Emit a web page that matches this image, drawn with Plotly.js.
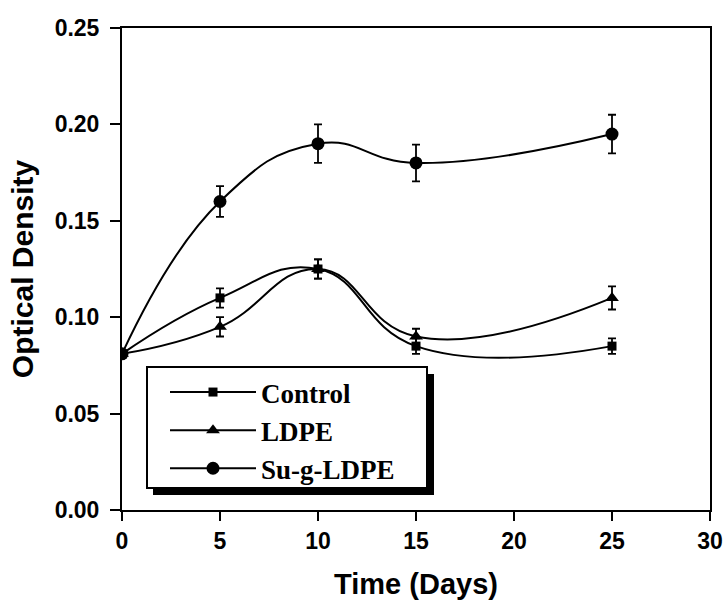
<!DOCTYPE html>
<html>
<head>
<meta charset="utf-8">
<script src="https://cdn.plot.ly/plotly-3.0.1.min.js"></script>
<style>html,body{margin:0;padding:0;background:#fff}#chart{width:727px;height:600px}</style>
</head>
<body>
<div id="chart"></div>
<script>
var days = [0, 5, 10, 15, 25];
var seriesNames = ["Control", "LDPE", "Su-g-LDPE"];
var controlOD = [0.081, 0.110, 0.125, 0.085, 0.085];
var controlErr = [0, 0.005, 0.005, 0.004, 0.004];
var ldpeOD = [0.081, 0.095, 0.125, 0.090, 0.110];
var ldpeErr = [0, 0.005, 0.005, 0.004, 0.006];
var sugOD = [0.081, 0.160, 0.190, 0.180, 0.195];
var sugErr = [0, 0.008, 0.010, 0.0095, 0.010];
var xTicks = [0, 5, 10, 15, 20, 25, 30];
var yTicks = [0.00, 0.05, 0.10, 0.15, 0.20, 0.25];

var L = 122, R = 710, T = 28, B = 510, W = 727, H = 600;
function px(x){return (x - L) / (R - L);}
function py(y){return (B - y) / (B - T);}

function mk(name, y, err, symbol, size){
  return {
    x: days, y: y, name: name, type: 'scatter', mode: 'lines+markers',
    line: {shape: 'spline', smoothing: 1.3, color: '#000', width: 2},
    marker: {symbol: symbol, size: size, color: '#000'},
    error_y: {type: 'data', array: err, visible: true, color: '#000', thickness: 1.8, width: 4}
  };
}
var traces = [
  mk(seriesNames[0], controlOD, controlErr, 'square', 9),
  mk(seriesNames[1], ldpeOD, ldpeErr, 'triangle-up', 12),
  mk(seriesNames[2], sugOD, sugErr, 'circle', 13)
];

var tickFont = {family: 'Liberation Sans, Arial, sans-serif', size: 23, color: '#000', weight: 'bold'};
var layout = {
  width: W, height: H,
  margin: {l: L, r: W - R, t: T, b: H - B},
  paper_bgcolor: '#fff', plot_bgcolor: '#fff',
  showlegend: true,
  legend: {
    x: px(165), y: py(368), xanchor: 'left', yanchor: 'top',
    bgcolor: 'rgba(0,0,0,0)', borderwidth: 0,
    itemwidth: 86, tracegroupgap: 0,
    font: {family: 'Liberation Serif, Times New Roman, serif', size: 27, color: '#000', weight: 'bold'}
  },
  xaxis: {
    range: [0, 30], tickvals: xTicks, ticktext: xTicks.map(String),
    showgrid: false, zeroline: false, showline: true, linecolor: '#000', linewidth: 2, mirror: true,
    ticks: 'outside', ticklen: 9, tickwidth: 2, tickcolor: '#000',
    tickfont: tickFont,
    title: {text: 'Time (Days)', standoff: 22, font: {family: 'Liberation Sans, Arial, sans-serif', size: 29, color: '#000', weight: 'bold'}}
  },
  yaxis: {
    range: [0, 0.25], tickvals: yTicks, ticktext: yTicks.map(function(v){return v.toFixed(2);}),
    showgrid: false, zeroline: false, showline: true, linecolor: '#000', linewidth: 2, mirror: true,
    ticks: 'outside', ticklen: 10, tickwidth: 2, tickcolor: '#000',
    ticklabelstandoff: 6,
    tickfont: tickFont,
    title: {text: 'Optical Density', standoff: 12, font: {family: 'Liberation Sans, Arial, sans-serif', size: 30, color: '#000', weight: 'bold'}}
  },
  shapes: [
    {type: 'rect', xref: 'paper', yref: 'paper', layer: 'above',
     x0: px(153), x1: px(434), y0: py(495), y1: py(374),
     fillcolor: '#000', line: {width: 0}},
    {type: 'rect', xref: 'paper', yref: 'paper', layer: 'above',
     x0: px(147), x1: px(427), y0: py(488), y1: py(367),
     fillcolor: '#fff', line: {color: '#000', width: 2}}
  ]
};
Plotly.newPlot('chart', traces, layout, {staticPlot: true, displayModeBar: false});
</script>
</body>
</html>
